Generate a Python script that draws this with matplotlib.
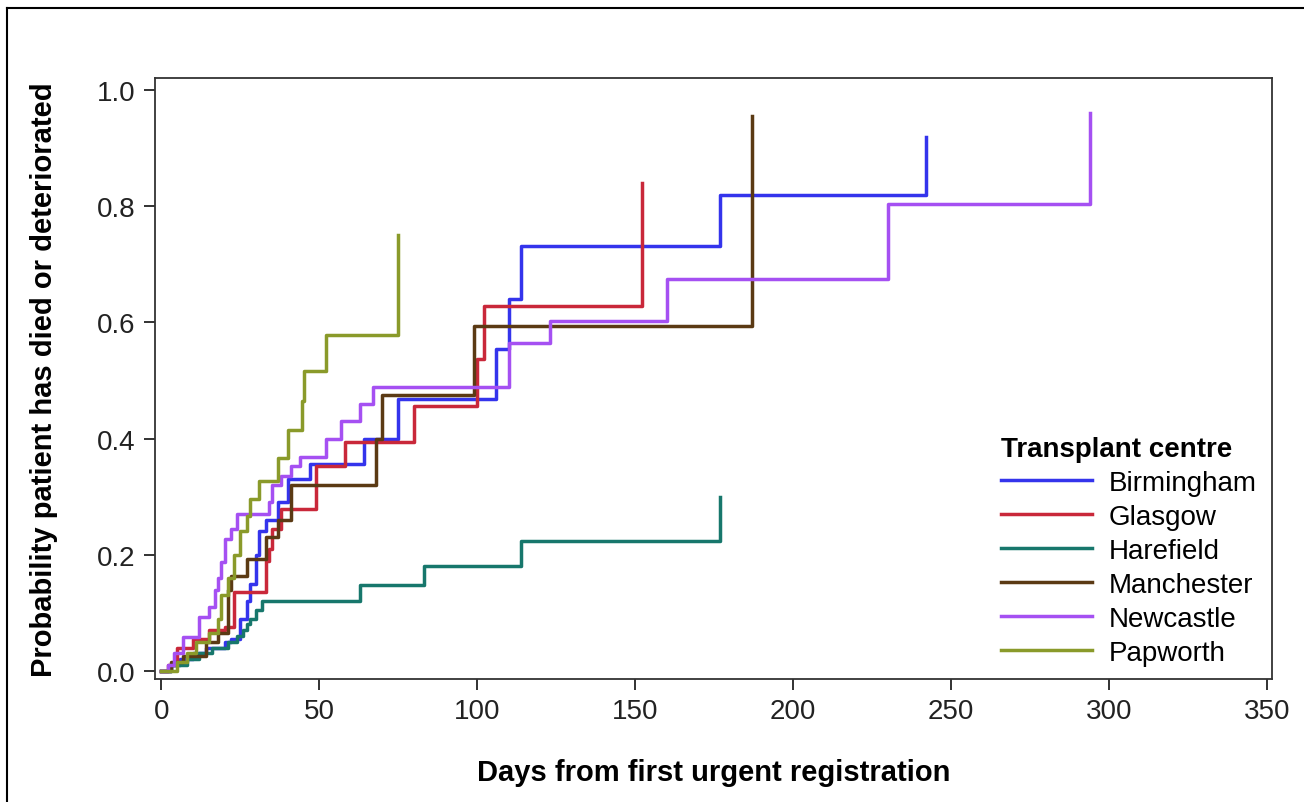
import matplotlib
matplotlib.use('Agg')
import matplotlib.pyplot as plt
from matplotlib.lines import Line2D

plt.rcParams['font.family'] = ['Liberation Sans', 'DejaVu Sans']

# step times (days) and cumulative probabilities
centres = ['Birmingham', 'Glasgow', 'Harefield', 'Manchester', 'Newcastle', 'Papworth']
colours = ['#3434ec', '#c9283a', '#17776c', '#5b3a14', '#a550f2', '#8a9a2a']

birmingham_t = [0, 3, 6, 10, 14, 20, 22, 25, 27, 28, 30, 31, 33, 37, 40, 47, 64, 75, 106, 110, 114, 177, 242]
birmingham_p = [0, 0.01, 0.02, 0.03, 0.04, 0.05, 0.055, 0.09, 0.12, 0.15, 0.20, 0.24, 0.26, 0.29, 0.33, 0.356,
                0.40, 0.468, 0.554, 0.64, 0.731, 0.82, 0.92]

glasgow_t = [0, 2, 5, 10, 15, 20, 23, 33, 34, 35, 38, 49, 58, 80, 100, 102, 152]
glasgow_p = [0, 0.01, 0.04, 0.055, 0.07, 0.075, 0.135, 0.19, 0.21, 0.244, 0.279, 0.353, 0.394, 0.456, 0.537,
             0.628, 0.84]

harefield_t = [0, 3, 8, 12, 16, 21, 24, 26, 27, 28, 30, 32, 63, 83, 114, 177]
harefield_p = [0, 0.01, 0.02, 0.03, 0.04, 0.05, 0.06, 0.07, 0.08, 0.09, 0.105, 0.12, 0.148, 0.181, 0.224, 0.30]

manchester_t = [0, 3, 7, 14, 18, 21, 22, 27, 33, 37, 41, 68, 70, 99, 187]
manchester_p = [0, 0.015, 0.026, 0.05, 0.065, 0.14, 0.163, 0.193, 0.23, 0.26, 0.32, 0.40, 0.475, 0.594, 0.955]

newcastle_t = [0, 2, 4, 7, 12, 15, 17, 18, 19, 20, 22, 24, 34, 35, 38, 41, 44, 52, 57, 63, 67, 110, 123, 160,
               230, 294]
newcastle_p = [0, 0.01, 0.03, 0.058, 0.093, 0.11, 0.14, 0.16, 0.188, 0.227, 0.244, 0.27, 0.29, 0.32, 0.336,
               0.353, 0.368, 0.40, 0.43, 0.46, 0.489, 0.565, 0.602, 0.675, 0.804, 0.96]

papworth_t = [0, 5, 8, 11, 15, 18, 19, 21, 23, 25, 27, 28, 31, 37, 40, 44.5, 45, 52, 75]
papworth_p = [0, 0.015, 0.03, 0.05, 0.065, 0.09, 0.13, 0.16, 0.2, 0.24, 0.267, 0.296, 0.327, 0.367, 0.415,
              0.465, 0.517, 0.578, 0.75]

times = [birmingham_t, glasgow_t, harefield_t, manchester_t, newcastle_t, papworth_t]
probs = [birmingham_p, glasgow_p, harefield_p, manchester_p, newcastle_p, papworth_p]

fig = plt.figure(figsize=(13.04, 8.03), dpi=100)
ax = fig.add_axes([0.1189, 0.1532, 0.8566, 0.7484])

for name, col, t, p in zip(centres, colours, times, probs):
    ax.step(t, p, where='post', color=col, linewidth=2.5, label=name)

ax.set_xlim(-2, 351.6)
ax.set_ylim(-0.014, 1.021)
ax.set_xticks(range(0, 351, 50))
ax.set_yticks([0, 0.2, 0.4, 0.6, 0.8, 1.0])
ax.set_yticklabels(['0.0', '0.2', '0.4', '0.6', '0.8', '1.0'])
ax.tick_params(direction='out', length=8, width=1.3, labelsize=20, colors='#222222', pad=6)
for sp in ax.spines.values():
    sp.set_linewidth(1.3)
    sp.set_color('#333333')

ax.set_xlabel('Days from first urgent registration', fontsize=21, fontweight='bold', labelpad=24)
ax.set_ylabel('Probability patient has died or deteriorated', fontsize=21, fontweight='bold', labelpad=28)

leg = ax.legend(title='Transplant centre', loc='lower right', frameon=False, fontsize=20,
                title_fontproperties={'weight': 'bold', 'size': 20}, handlelength=3.3,
                labelspacing=0.29, handletextpad=0.6, borderaxespad=0.3,
                bbox_to_anchor=(1.004, -0.011))
leg._legend_box.align = 'left'

# thin frame round the picture (left and top edges visible)
fig.add_artist(Line2D([7 / 1304, 7 / 1304], [0, 1 - 9 / 803], transform=fig.transFigure, color='black', lw=1.5))
fig.add_artist(Line2D([7 / 1304, 1], [1 - 9 / 803, 1 - 9 / 803], transform=fig.transFigure, color='black', lw=1.5))

fig.savefig('out.png', dpi=100)
